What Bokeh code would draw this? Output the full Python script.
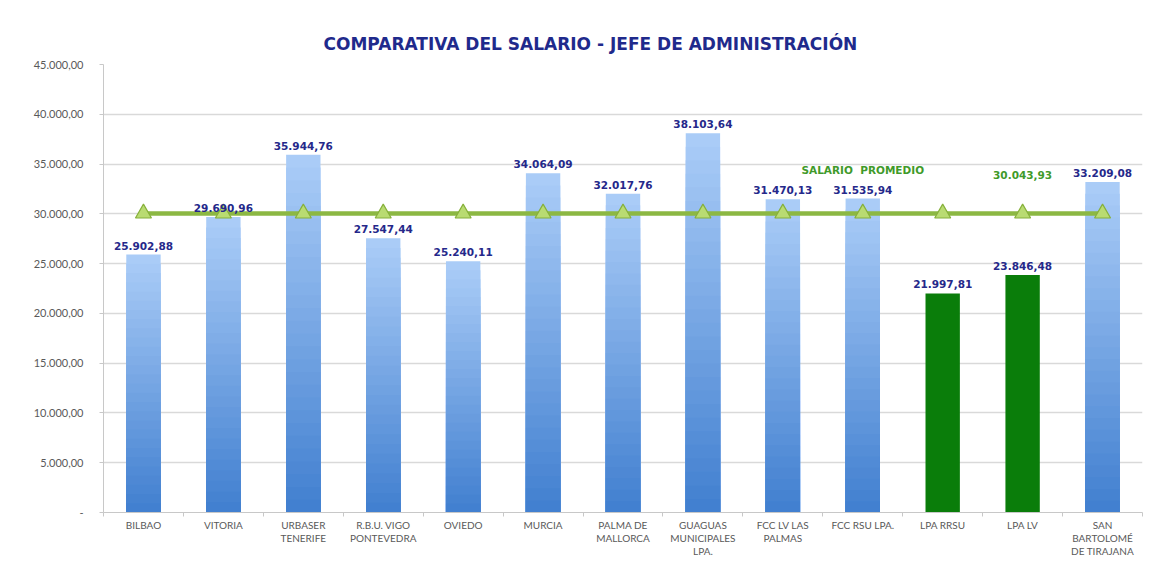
from bokeh.plotting import figure
from bokeh.models import Range1d, FixedTicker, ColumnDataSource, LabelSet, Label
from bokeh.core.properties import value
from bokeh.embed import file_html
from bokeh.resources import INLINE

title_text = "COMPARATIVA DEL SALARIO - JEFE DE ADMINISTRACIÓN"
categories = ["BILBAO", "VITORIA", "URBASER\nTENERIFE", "R.B.U. VIGO\nPONTEVEDRA", "OVIEDO",
              "MURCIA", "PALMA DE\nMALLORCA", "GUAGUAS\nMUNICIPALES\nLPA.", "FCC LV LAS\nPALMAS",
              "FCC RSU LPA.", "LPA RRSU", "LPA LV", "SAN\nBARTOLOMÉ\nDE TIRAJANA"]
salaries = [25902.88, 29690.96, 35944.76, 27547.44, 25240.11, 34064.09, 32017.76,
            38103.64, 31470.13, 31535.94, 21997.81, 23846.48, 33209.08]
highlighted = ["LPA RRSU", "LPA LV"]
average_salary = 30043.93
average_label = "SALARIO\u00a0\u00a0PROMEDIO"
y_ticks = [0, 5000, 10000, 15000, 20000, 25000, 30000, 35000, 40000, 45000]


def es(v):
    s = f"{v:,.2f}"
    return s.replace(",", "X").replace(".", ",").replace("X", ".")


n = len(categories)
xs = list(range(n))

FONT = "Lato"
BOLDFONT = "DejaVu Sans"
NAVY = "#25288a"
GREEN_TXT = "#3f9a2a"

p = figure(width=1146, height=562, output_backend="svg", toolbar_location=None,
           x_range=Range1d(-0.5, n - 0.5), y_range=Range1d(0, 45000),
           min_border_left=103, min_border_right=4, min_border_top=64, min_border_bottom=50,
           background_fill_color="white", border_fill_color="white")
p.outline_line_color = None

p.title.text = title_text
p.title.align = "left"
p.title.offset = 220
p.title.text_font = BOLDFONT
p.title.text_font_size = "17px"
p.title.text_font_style = "bold"
p.title.text_color = "#1f2a8c"
p.title.standoff = 22

# grid
p.xgrid.grid_line_color = None
p.ygrid.grid_line_color = "#d9d9d9"
p.ygrid.grid_line_width = 1.3

# y axis
p.yaxis.ticker = FixedTicker(ticks=y_ticks)
p.yaxis.major_label_overrides = {t: ("-" if t == 0 else es(t)) for t in y_ticks}
p.yaxis.axis_line_color = "#c8c8c8"
p.yaxis.major_tick_line_color = "#c8c8c8"
p.yaxis.major_tick_out = 4
p.yaxis.major_tick_in = 0
p.yaxis.minor_tick_line_color = None
p.yaxis.major_label_standoff = 16
p.yaxis.major_label_text_font = FONT
p.yaxis.major_label_text_font_size = "11px"
p.yaxis.major_label_text_color = "#595959"

# x axis
p.xaxis.ticker = FixedTicker(ticks=xs, minor_ticks=[i - 0.5 for i in range(n + 1)])
p.xaxis.major_label_overrides = {i: c for i, c in enumerate(categories)}
p.xaxis.axis_line_color = "#c8c8c8"
p.xaxis.major_tick_line_color = None
p.xaxis.minor_tick_line_color = "#c8c8c8"
p.xaxis.minor_tick_out = 4
p.xaxis.minor_tick_in = 0
p.xaxis.major_label_standoff = 0
p.xaxis.major_label_text_font = FONT
p.xaxis.major_label_text_font_size = "10px"
p.xaxis.major_label_text_color = "#595959"
p.xaxis.major_label_text_line_height = 1.12

# gradient bars (layered)
blue_x = [i for i, c in enumerate(categories) if c not in highlighted]
blue_v = [salaries[i] for i in blue_x]
N = 28
top_rgb = (170, 204, 247)
bot_rgb = (66, 128, 208)
for k in range(N):
    t = k / (N - 1)
    rgb = tuple(int(round(top_rgb[j] + (bot_rgb[j] - top_rgb[j]) * t)) for j in range(3))
    col = "#%02x%02x%02x" % rgb
    frac = 1 - k / N
    p.vbar(x=blue_x, top=[v * frac for v in blue_v], bottom=0, width=0.43,
           fill_color=col, line_color=None)

green_x = [i for i, c in enumerate(categories) if c in highlighted]
green_v = [salaries[i] for i in green_x]
p.vbar(x=green_x, top=green_v, bottom=0, width=0.43, fill_color="#0a7d0a", line_color=None)

# average line
avg = [average_salary] * n
p.line(xs, avg, line_color="#8cb843", line_width=4.5)
p.scatter(xs, avg, marker="triangle", size=16, fill_color="#b9db72",
          line_color="#86b03a", line_width=1.2)

# value labels
src = ColumnDataSource(dict(x=xs, y=salaries, txt=[es(v) for v in salaries]))
p.add_layout(LabelSet(x="x", y="y", text="txt", source=src, y_offset=5,
                      text_align="center", text_baseline="bottom",
                      text_font=value(BOLDFONT), text_font_size="10.5px",
                      text_font_style="bold", text_color=NAVY))

p.add_layout(Label(x=9, y=average_salary, y_offset=37, text=average_label,
                   text_align="center", text_baseline="bottom",
                   text_font=BOLDFONT, text_font_size="10.5px", text_font_style="bold",
                   text_color=GREEN_TXT))
p.add_layout(Label(x=11, y=average_salary, y_offset=34, text=es(average_salary),
                   text_align="center", text_baseline="bottom",
                   text_font=BOLDFONT, text_font_size="10.5px", text_font_style="bold",
                   text_color=GREEN_TXT))

open("out.html", "w").write(file_html(p, INLINE))
